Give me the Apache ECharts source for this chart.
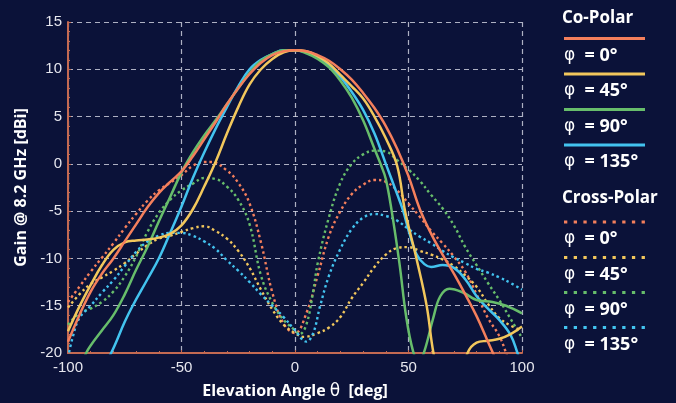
<!DOCTYPE html>
<html>
<head>
<meta charset="UTF-8">
<title>Gain @ 8.2 GHz</title>
<script src="https://cdn.jsdelivr.net/npm/echarts@6/dist/echarts.min.js"></script>
<style>
  html, body { margin: 0; padding: 0; background: #0b1239; }
  #chart { width: 676px; height: 403px; }
</style>
</head>
<body>
<div id="chart"></div>
<script>
// data (theta in deg, gain in dBi)
const coPol0 = [[-100,-18.8],[-95,-16],[-90,-13.5],[-85,-11.6],[-80,-10],[-75,-8.2],[-70,-6.4],[-65,-4.6],[-60,-3.1],[-55,-1.9],[-50,-0.8],[-45,0.8],[-40,2.6],[-35,4.4],[-30,6.3],[-25,8],[-20,9.5],[-15,10.7],[-10,11.5],[-5,11.9],[0,12],[5,11.9],[10,11.5],[15,10.9],[20,10],[25,8.9],[30,7.5],[35,5.9],[40,4],[45,1.6],[50,-1.3],[55,-4.8],[60,-7.4],[65,-9.6],[70,-11.6],[75,-13.8],[80,-16.1],[85,-18.8],[90,-21.5],[95,-24]];
const coPol45 = [[-100,-17.7],[-95,-15.1],[-90,-12.8],[-85,-10.7],[-80,-9.1],[-75,-8.3],[-70,-8.1],[-65,-8],[-60,-7.8],[-55,-7.4],[-50,-6.5],[-45,-4.8],[-40,-2.4],[-35,0.2],[-30,3.2],[-25,6],[-20,8.4],[-15,10],[-10,11.1],[-5,11.8],[0,12],[5,11.9],[10,11.4],[15,10.6],[20,9.4],[25,8.2],[30,6.9],[35,5],[40,2.7],[45,-0.2],[48.5,-5],[53.5,-10],[58,-15],[61,-20],[65,-24],[70,-25],[73,-23],[76,-20],[80,-18.9],[85,-18.7],[90,-18.5],[95,-18],[100,-17.2]];
const coPol90 = [[-100,-24],[-95,-21.8],[-92,-20],[-90,-19.2],[-85,-17.6],[-80,-16],[-75,-13.8],[-70,-11.2],[-65,-8.8],[-60,-6.1],[-55,-3.5],[-50,-0.9],[-45,1.2],[-40,3],[-35,4.6],[-30,6.3],[-25,8],[-20,9.6],[-15,10.9],[-10,11.6],[-5,12],[0,12],[5,11.7],[10,11.1],[15,10.2],[20,8.8],[25,7],[30,4.6],[35,1.6],[38,-0.2],[40,-1.6],[42.6,-5],[46,-10.5],[49,-16.2],[52,-19.8],[54.5,-21],[57,-19.8],[61,-16.2],[64,-14],[68,-13.2],[74,-13.6],[80,-14.4],[87,-14.6],[93,-15],[100,-15.8]];
const coPol135 = [[-100,-28],[-90,-24],[-81,-20],[-75,-16.7],[-71.5,-15],[-65,-12.2],[-60,-10],[-55,-7.3],[-50,-4.5],[-45,-1.5],[-40,1.2],[-35,3.7],[-30,6],[-25,8.2],[-20,10],[-15,11],[-10,11.6],[-5,12],[0,12],[5,11.8],[10,11.3],[15,10.4],[20,9.2],[25,7.6],[30,5.7],[35,3.2],[40,0],[45,-3.2],[47.7,-5],[50,-7],[53.6,-9.6],[57,-10.6],[60,-10.9],[65,-10.7],[70,-11],[75,-12.2],[80,-14],[85,-15.3],[90,-16.5],[95,-18.1],[98,-20],[100,-21.5]];

const xPol0 = [[-100,-14.6],[-95,-13],[-90,-11.4],[-85,-9.9],[-80,-8.4],[-75,-6.8],[-70,-5.3],[-65,-3.9],[-60,-2.8],[-55,-2],[-50,-1.2],[-45,-0.2],[-40,0.2],[-37,0.2],[-30,-0.7],[-25,-2],[-20,-4.2],[-15,-8.3],[-10,-13.6],[-5,-16.9],[0,-17.9],[5,-15.8],[10,-11.8],[15,-7.6],[20,-5],[25,-3.2],[30,-2.2],[35,-1.7],[40,-1.9],[45,-2.8],[50,-4.2],[55,-5.6],[60,-7.1],[65,-8.4],[70,-9.8],[75,-11.4],[80,-13.8],[85,-16.3],[90,-18.2],[93,-20],[96,-22]];
const xPol45 = [[-100,-15.2],[-95,-13.8],[-90,-12.7],[-85,-12],[-80,-11.3],[-75,-10.5],[-70,-9.5],[-65,-8.6],[-60,-7.9],[-55,-7.6],[-50,-7.2],[-45,-6.8],[-40,-6.6],[-35,-7.1],[-30,-7.9],[-25,-9.2],[-20,-11],[-15,-13.3],[-10,-15.4],[-5,-17],[0,-17.9],[4,-18.3],[10,-17.9],[15,-17.3],[20,-16.2],[25,-14.2],[30,-12.6],[35,-10.9],[40,-9.6],[45,-8.9],[50,-8.8],[55,-9.2],[60,-9.6],[65,-10.1],[70,-10.8],[75,-11.8],[80,-13],[85,-14.8],[90,-16.3],[95,-17.1],[100,-17.6]];
const xPol90 = [[-100,-17],[-95,-15.8],[-90,-15.3],[-85,-14.6],[-80,-13.5],[-75,-11.9],[-70,-9.8],[-65,-7.2],[-60,-5.2],[-55,-3.8],[-50,-2.8],[-45,-2.1],[-40,-1.5],[-35,-1.6],[-30,-2.4],[-25,-3.8],[-20,-6.4],[-15,-11.8],[-10,-14.7],[-5,-16.5],[0,-17.6],[2,-18],[5,-17],[8,-13.5],[10,-10.5],[15,-5.6],[20,-2],[25,0],[30,1],[35,1.4],[40,1.3],[45,0.4],[50,-0.6],[55,-1.8],[60,-3.3],[65,-4.7],[70,-6.5],[75,-8.8],[80,-10.7],[85,-12.6],[90,-14.4],[95,-16.4],[100,-18.4]];
const xPol135 = [[-100,-20.5],[-98,-18.4],[-95,-16.3],[-90,-15],[-85,-13.6],[-80,-12.3],[-75,-10.8],[-70,-9.3],[-65,-8.2],[-60,-7.6],[-55,-7.3],[-50,-7.3],[-45,-7.6],[-40,-8.2],[-35,-9],[-30,-10.2],[-25,-11.3],[-20,-12.5],[-15,-13.8],[-10,-15],[-5,-16.2],[0,-17.6],[5,-18.8],[8,-17.9],[11,-15.1],[15,-11.8],[20,-9],[25,-6.9],[30,-5.7],[35,-5.3],[40,-5.5],[45,-6],[50,-6.9],[55,-7.7],[60,-8.4],[65,-9.2],[70,-9.9],[75,-10.5],[80,-11.1],[85,-11.5],[90,-12],[95,-12.6],[100,-13.3]];

const phiLabels = ['0°', '45°', '90°', '135°'];
const colors = ['#f47f5c', '#f2c75c', '#67bd6b', '#43c3ef'];
const coData = [coPol0, coPol45, coPol90, coPol135];
const xData = [xPol0, xPol45, xPol90, xPol135];

const chart = echarts.init(document.getElementById('chart'));

const fontBold = '"Open Sans", "DejaVu Sans", sans-serif';
const tickFont = '"Liberation Sans", Arial, sans-serif';

const series = [];
// cross-polar (dotted) drawn first
for (let i = 0; i < 4; i++) {
  series.push({
    name: 'Cross-Polar φ = ' + phiLabels[i],
    type: 'line',
    data: xData[i],
    smooth: 0.4,
    showSymbol: false,
    lineStyle: { color: colors[i], width: 2.4, type: [2.5, 3] }
  });
}
// co-polar (solid), orange last so it sits on top
for (let i = 3; i >= 0; i--) {
  series.push({
    name: 'Co-Polar φ = ' + phiLabels[i],
    type: 'line',
    data: coData[i],
    smooth: 0.4,
    showSymbol: false,
    lineStyle: { color: colors[i], width: 2.5 }
  });
}

// legend drawn as graphics (line swatch above label)
const graphic = [];
function header(txt, y) {
  graphic.push({
    type: 'text', left: 562, top: y - 11,
    style: { text: txt, fill: '#ffffff', font: 'bold 17px ' + fontBold }
  });
}
function item(i, y, dotted) {
  graphic.push({
    type: 'line',
    shape: { x1: 564, y1: y, x2: 645, y2: y },
    style: { stroke: colors[i], lineWidth: 3, lineDash: dotted ? [3.3, 6.4] : null }
  });
  graphic.push({
    type: 'text', left: 564, top: y + 8,
    style: {
      text: '{p|φ}{b|  = ' + phiLabels[i] + '}',
      fill: '#ffffff',
      rich: {
        p: { font: '17px "DejaVu Sans", sans-serif', fill: '#ffffff' },
        b: { font: 'bold 18px ' + fontBold, fill: '#ffffff' }
      }
    }
  });
}
header('Co-Polar', 21);
[38.5, 74, 109.5, 145].forEach((y, i) => item(i, y, false));
header('Cross-Polar', 201);
[222, 257.5, 292.5, 327.5].forEach((y, i) => item(i, y, true));

const option = {
  backgroundColor: '#0b1239',
  animation: false,
  grid: { left: 68, right: 154, top: 22, bottom: 50, outerBoundsMode: 'none', containLabel: false },
  xAxis: {
    type: 'value',
    min: -100, max: 100, interval: 50,
    name: '{b|Elevation Angle }{t|θ}{b|  [deg]}',
    nameLocation: 'middle',
    nameGap: 30,
    nameTextStyle: {
      rich: {
        b: { color: '#ffffff', fontWeight: 'bold', fontSize: 16, fontFamily: fontBold },
        t: { color: '#ffffff', fontSize: 17, fontFamily: '"DejaVu Sans", sans-serif' }
      }
    },
    axisLine: { onZero: false, lineStyle: { color: '#c46a52', width: 2 } },
    axisTick: { inside: true, length: 3, lineStyle: { color: '#c46a52' } },
    minorTick: { show: true, splitNumber: 5, length: 2, lineStyle: { color: '#c46a52' } },
    axisLabel: { color: '#e6e6ee', fontSize: 15, fontFamily: tickFont, margin: 7 },
    splitLine: { show: true, lineStyle: { color: 'rgba(215,218,230,0.8)', width: 1.2, type: [5, 4] } }
  },
  yAxis: {
    type: 'value',
    min: -20, max: 15, interval: 5,
    name: 'Gain @ 8.2 GHz [dBi]',
    nameLocation: 'middle',
    nameGap: 37,
    nameTextStyle: { color: '#ffffff', fontWeight: 'bold', fontSize: 16, fontFamily: fontBold },
    axisLine: { show: true, onZero: false, lineStyle: { color: '#c46a52', width: 2 } },
    axisTick: { show: true, inside: true, length: 3, lineStyle: { color: '#c46a52' } },
    minorTick: { show: true, splitNumber: 5, length: 2, lineStyle: { color: '#c46a52' } },
    axisLabel: { color: '#e6e6ee', fontSize: 15, fontFamily: tickFont, margin: 6 },
    splitLine: { show: true, lineStyle: { color: 'rgba(215,218,230,0.8)', width: 1.2, type: [5, 4] } }
  },
  graphic: graphic,
  series: series
};

chart.setOption(option);
</script>
</body>
</html>
